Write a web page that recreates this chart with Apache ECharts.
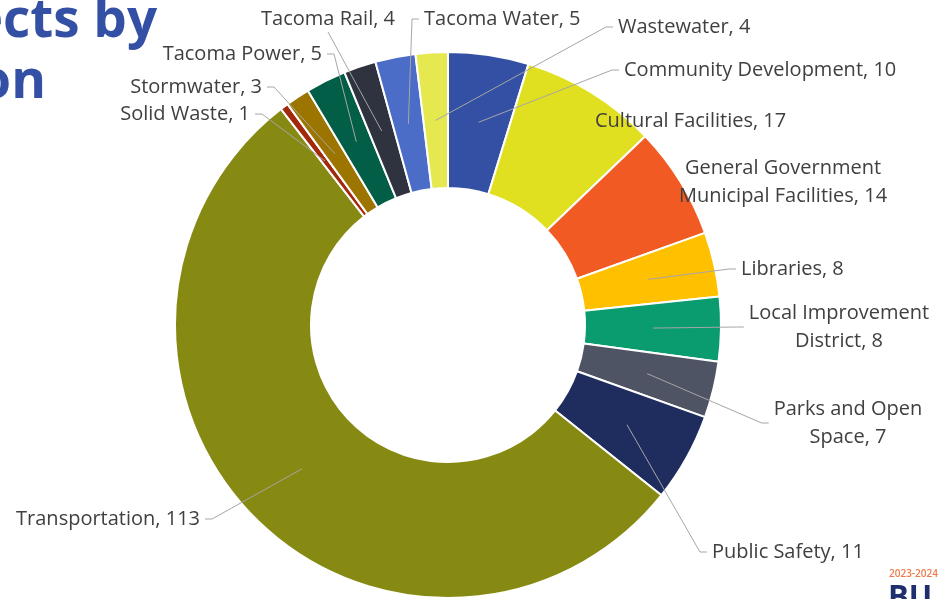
<!DOCTYPE html>
<html>
<head>
<meta charset="utf-8">
<script src="https://cdn.jsdelivr.net/npm/echarts@6/dist/echarts.min.js"></script>
<style>
html,body{margin:0;padding:0;background:#fff;}
#chart{width:938px;height:599px;}
</style>
</head>
<body>
<div id="chart"></div>
<script>
// ---- data ----
const categories = ['Community Development', 'Cultural Facilities', 'General Government Municipal Facilities',
  'Libraries', 'Local Improvement District', 'Parks and Open Space', 'Public Safety', 'Transportation',
  'Solid Waste', 'Stormwater', 'Tacoma Power', 'Tacoma Rail', 'Tacoma Water', 'Wastewater'];
const values = [10, 17, 14, 8, 8, 7, 11, 113, 1, 3, 5, 4, 5, 4];
// where a label wraps onto a second line
const wrapAfter = {
  'General Government Municipal Facilities': 'General Government',
  'Local Improvement District': 'Local Improvement',
  'Parks and Open Space': 'Parks and Open'
};

// ---- styles / layout (not data) ----
const colors = ['#3450A4', '#E0E020', '#F15A22', '#FFC000', '#0A9B6F', '#4F5465', '#1F2D5E', '#878A12',
  '#A3290D', '#9C7400', '#035E47', '#2F323F', '#4B6CC7', '#E5E84E'];
const noLine = ['Cultural Facilities', 'General Government Municipal Facilities'];
// label anchor: [x, y(middle), align, side the guide line attaches to]
const labelPos = [
  [624, 70, 'left', 'l'],
  [595, 121, 'left', 'l'],
  [783, 182, 'center', 'l'],
  [741, 269, 'left', 'l'],
  [839, 327, 'center', 'l'],
  [848, 423, 'center', 'l'],
  [712, 552, 'left', 'l'],
  [200, 519, 'right', 'r'],
  [250, 114, 'right', 'r'],
  [262, 87, 'right', 'r'],
  [322, 54, 'right', 'r'],
  [395, 19, 'right', 'b'],
  [424, 19, 'left', 'l'],
  [618, 27, 'left', 'l']
];
const CX = 448, CY = 325, R_IN = 137, R_OUT = 273;
const PAD = 400; // enlarge the pie's view box so labels are never truncated
const LABEL_FONT = '20px "Open Sans", sans-serif';
const LINE_H = 28;

function labelText(name, value) {
  const w = wrapAfter[name];
  const n = w ? w + '\n' + name.slice(w.length + 1) : name;
  return n + ', ' + value;
}

const ctx = document.createElement('canvas').getContext('2d');
ctx.font = LABEL_FONT;
function textWidth(s) { return Math.max.apply(null, s.split('\n').map(l => ctx.measureText(l).width)); }

const chart = echarts.init(document.getElementById('chart'), null, {renderer: 'canvas'});

const data = categories.map((c, i) => ({name: c, value: values[i], itemStyle: {color: colors[i]}}));

// mid-angle of each slice (clockwise from 12 o'clock), for the inner end of the guide lines
const total = values.reduce((a, b) => a + b, 0);
const midAngles = [];
values.reduce((cum, v) => { midAngles.push((cum + v / 2) / total * Math.PI * 2); return cum + v; }, 0);

// guide lines (Excel style: start inside the ring, end with a short horizontal tick at the label)
const guideLines = [];
categories.forEach((c, i) => {
  if (noLine.indexOf(c) >= 0) return;
  const pos = labelPos[i];
  const x = pos[0], y = pos[1], align = pos[2], side = pos[3];
  const txt = labelText(c, values[i]);
  const w = textWidth(txt), h = txt.split('\n').length * LINE_H;
  const left = align === 'left' ? x : (align === 'right' ? x - w : x - w / 2);
  const right = left + w;
  const r = (R_IN + R_OUT) / 2;
  const a = midAngles[i];
  const inner = [CX + r * Math.sin(a), CY - r * Math.cos(a)];
  let end, elbow;
  if (side === 'l') { end = [left - 5, y]; elbow = [end[0] - 7, y]; }
  else if (side === 'r') { end = [right + 5, y]; elbow = [end[0] + 7, y]; }
  else { end = [(left + right) / 2, y + h / 2 - 1]; elbow = end.slice(); }
  guideLines.push({
    type: 'polyline', silent: true, z: 5,
    shape: {points: [inner, elbow, end]},
    style: {stroke: '#A6A6A6', lineWidth: 1, fill: null}
  });
});

const tctx = document.createElement('canvas').getContext('2d');
tctx.font = 'bold 53px "Open Sans", sans-serif';
const eW = tctx.measureText('e').width;

chart.setOption({
  animation: false,
  backgroundColor: '#ffffff',
  graphic: guideLines.concat([
    {type: 'text', silent: true, z: 10,
      style: {text: 'ects by', x: 3 - eW, y: 22, verticalAlign: 'middle', fill: '#3350A5',
        font: 'bold 53px "Open Sans", sans-serif'}},
    {type: 'text', silent: true, z: 10,
      style: {text: 'on', x: 46, y: 83, align: 'right', verticalAlign: 'middle', fill: '#3350A5',
        font: 'bold 53px "Open Sans", sans-serif'}},
    {type: 'text', silent: true, z: 10,
      style: {text: '2023-2024', x: 889, y: 574, verticalAlign: 'middle', fill: '#EE7A4A',
        font: '600 10px "Open Sans", sans-serif'}},
    {type: 'text', silent: true, z: 10,
      style: {text: 'BU', x: 888, y: 598, verticalAlign: 'middle', fill: '#1F2F6E',
        font: 'bold 31px "Open Sans", sans-serif'}}
  ]),
  series: [{
    type: 'pie',
    left: -PAD, right: -PAD, top: -PAD, bottom: -PAD,
    center: [CX + PAD, CY + PAD],
    radius: [R_IN, R_OUT],
    startAngle: 90,
    clockwise: true,
    avoidLabelOverlap: false,
    itemStyle: {borderColor: '#ffffff', borderWidth: 2},
    label: {
      show: true,
      position: 'outside',
      alignTo: 'none',
      color: '#404040',
      fontSize: 20,
      lineHeight: LINE_H,
      fontFamily: '"Open Sans", sans-serif',
      formatter: function (p) { return labelText(p.name, p.value); }
    },
    labelLine: {show: false},
    emphasis: {disabled: true},
    labelLayout: function (p) {
      const pos = labelPos[p.dataIndex];
      return {x: pos[0], y: pos[1], align: pos[2], verticalAlign: 'middle'};
    },
    data: data
  }]
});
</script>
</body>
</html>
